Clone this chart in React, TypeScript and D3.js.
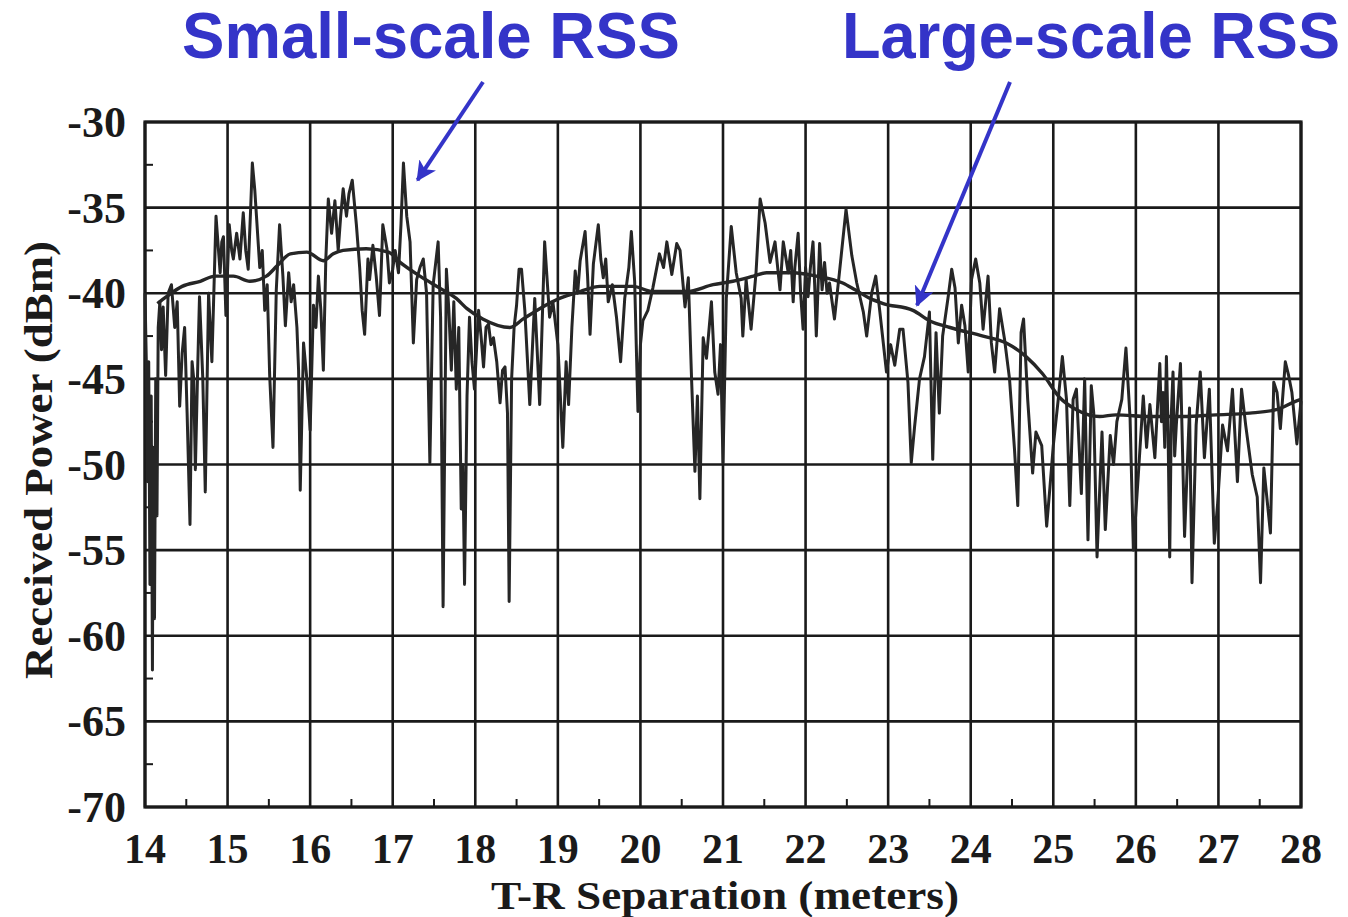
import React from 'react';
import * as d3 from 'd3';

const xTicks = [14, 15, 16, 17, 18, 19, 20, 21, 22, 23, 24, 25, 26, 27, 28];
const yTicks = [-30, -35, -40, -45, -50, -55, -60, -65, -70];
const xMinorTicks = [14.5, 15.5, 16.5, 17.5, 18.5, 19.5, 20.5, 21.5, 22.5, 23.5, 24.5, 25.5, 26.5, 27.5];
const yMinorTicks = [-32.5, -37.5, -42.5, -47.5, -52.5, -57.5, -62.5, -67.5];

const xAxisTitle = 'T-R Separation (meters)';
const yAxisTitle = 'Received Power (dBm)';
const smallLabel = 'Small-scale RSS';
const largeLabel = 'Large-scale RSS';
// arrow tips point at these data locations [distance, dBm]
const smallArrowTip: [number, number] = [17.3, -33.4];
const largeArrowTip: [number, number] = [23.35, -40.7];

// [distance (m), received power (dBm)]
const smallScaleRSS: [number, number][] = [
  [14.00, -40.0], [14.02, -45.0], [14.03, -51.0], [14.045, -44.0], [14.06, -57.0], [14.075, -46.0],
  [14.09, -62.0], [14.10, -49.0], [14.115, -59.0], [14.13, -45.0], [14.145, -53.0], [14.16, -42.0],
  [14.18, -40.5], [14.20, -43.3], [14.22, -40.8], [14.25, -44.8], [14.28, -40.0], [14.32, -39.5],
  [14.36, -42.0], [14.39, -40.5], [14.42, -46.6], [14.45, -43.5], [14.48, -42.0], [14.51, -47.0],
  [14.545, -53.5], [14.57, -44.0], [14.59, -45.0], [14.61, -50.3], [14.64, -44.0], [14.66, -40.2],
  [14.70, -45.0], [14.73, -51.6], [14.77, -40.0], [14.81, -44.0], [14.86, -35.5], [14.91, -38.8],
  [14.93, -37.0], [14.95, -36.7], [14.98, -41.3], [15.02, -36.0], [15.05, -37.5], [15.07, -38.0],
  [15.11, -36.5], [15.15, -38.0], [15.19, -35.3], [15.22, -37.5], [15.25, -38.6], [15.28, -35.0],
  [15.30, -32.4], [15.33, -34.0], [15.35, -35.5], [15.39, -38.5], [15.42, -37.5], [15.45, -41.0],
  [15.48, -39.5], [15.51, -44.8], [15.55, -49.0], [15.59, -39.8], [15.63, -36.0], [15.67, -39.0],
  [15.70, -41.9], [15.74, -38.8], [15.77, -40.5], [15.80, -39.5], [15.84, -42.0], [15.86, -44.5],
  [15.88, -51.5], [15.92, -42.9], [15.96, -45.0], [16.00, -48.0], [16.04, -40.7], [16.07, -42.0],
  [16.10, -39.0], [16.13, -41.0], [16.16, -44.5], [16.19, -38.0], [16.22, -34.5], [16.26, -36.5],
  [16.30, -34.6], [16.34, -37.5], [16.37, -35.5], [16.40, -33.9], [16.44, -35.5], [16.47, -34.2],
  [16.51, -33.4], [16.56, -36.0], [16.60, -38.5], [16.63, -41.0], [16.66, -42.4], [16.70, -38.0],
  [16.72, -39.2], [16.76, -37.2], [16.80, -39.0], [16.84, -41.3], [16.88, -36.0], [16.93, -37.4],
  [16.96, -39.4], [17.00, -38.6], [17.03, -37.5], [17.07, -38.8], [17.10, -36.0], [17.13, -32.4],
  [17.17, -35.5], [17.21, -37.0], [17.25, -42.9], [17.29, -39.2], [17.33, -38.5], [17.37, -38.0],
  [17.41, -40.0], [17.45, -49.9], [17.49, -39.5], [17.55, -37.0], [17.58, -41.4], [17.61, -58.3],
  [17.65, -38.6], [17.68, -41.0], [17.71, -44.5], [17.74, -40.5], [17.77, -45.6], [17.80, -42.0],
  [17.83, -52.6], [17.85, -50.0], [17.87, -57.0], [17.90, -46.0], [17.93, -41.4], [17.96, -44.0],
  [17.99, -45.6], [18.04, -41.0], [18.07, -42.5], [18.10, -44.3], [18.13, -42.0], [18.16, -41.8],
  [18.19, -43.0], [18.22, -42.6], [18.26, -44.0], [18.30, -46.4], [18.33, -44.5], [18.36, -44.3],
  [18.39, -47.0], [18.41, -58.0], [18.44, -45.0], [18.47, -42.0], [18.50, -40.7], [18.53, -38.6],
  [18.56, -38.6], [18.60, -41.0], [18.66, -46.5], [18.72, -40.3], [18.78, -46.5], [18.84, -37.0],
  [18.90, -41.4], [18.94, -40.5], [19.00, -43.0], [19.06, -49.0], [19.10, -44.0], [19.13, -46.5],
  [19.17, -42.0], [19.21, -38.7], [19.24, -40.0], [19.27, -38.1], [19.33, -36.4], [19.36, -39.0],
  [19.39, -42.4], [19.43, -38.3], [19.49, -36.0], [19.52, -38.0], [19.55, -39.1], [19.58, -38.0],
  [19.61, -40.5], [19.66, -39.5], [19.71, -41.4], [19.76, -44.0], [19.81, -40.3], [19.86, -38.5],
  [19.89, -36.4], [19.93, -39.3], [19.97, -46.9], [20.00, -43.0], [20.03, -41.6], [20.09, -41.0],
  [20.15, -39.7], [20.23, -37.7], [20.28, -38.5], [20.32, -37.0], [20.38, -38.9], [20.44, -37.1],
  [20.48, -37.5], [20.54, -40.8], [20.58, -39.1], [20.62, -45.1], [20.66, -50.4], [20.69, -46.0],
  [20.72, -52.0], [20.76, -42.6], [20.80, -43.8], [20.86, -40.5], [20.90, -44.6], [20.94, -45.9],
  [20.97, -43.0], [21.00, -49.9], [21.04, -40.3], [21.10, -36.1], [21.16, -38.8], [21.22, -40.3],
  [21.24, -42.5], [21.28, -39.2], [21.34, -42.1], [21.40, -38.8], [21.45, -34.5], [21.51, -35.9],
  [21.57, -38.2], [21.63, -37.0], [21.69, -39.8], [21.73, -37.0], [21.79, -38.8], [21.82, -37.5],
  [21.85, -40.5], [21.87, -38.5], [21.91, -36.5], [21.94, -40.0], [21.97, -42.1], [22.00, -38.5],
  [22.03, -40.2], [22.06, -38.4], [22.09, -37.0], [22.11, -39.5], [22.13, -42.5], [22.17, -37.1],
  [22.20, -39.8], [22.23, -38.2], [22.26, -40.0], [22.29, -39.4], [22.35, -41.5], [22.41, -38.8],
  [22.49, -35.1], [22.56, -37.8], [22.62, -39.4], [22.70, -41.1], [22.74, -42.5], [22.80, -40.0],
  [22.85, -39.0], [22.90, -41.1], [22.98, -44.6], [23.03, -43.0], [23.08, -44.2], [23.14, -42.1],
  [23.18, -42.1], [23.24, -45.2], [23.28, -49.9], [23.32, -47.8], [23.38, -45.0], [23.44, -43.7],
  [23.50, -41.1], [23.54, -49.7], [23.58, -42.3], [23.62, -47.0], [23.66, -42.5], [23.73, -40.1],
  [23.77, -38.6], [23.81, -39.7], [23.85, -42.9], [23.89, -40.7], [23.93, -41.9], [23.97, -44.6],
  [24.01, -39.2], [24.06, -38.0], [24.11, -39.4], [24.15, -42.1], [24.21, -39.0], [24.25, -42.9],
  [24.29, -44.6], [24.35, -40.9], [24.41, -42.7], [24.47, -45.0], [24.53, -49.1], [24.57, -52.4],
  [24.61, -42.3], [24.64, -41.5], [24.69, -46.2], [24.75, -50.5], [24.79, -48.1], [24.86, -48.9],
  [24.92, -53.6], [24.96, -51.3], [25.00, -48.9], [25.06, -46.2], [25.11, -43.7], [25.16, -46.2],
  [25.20, -52.4], [25.24, -46.2], [25.28, -45.6], [25.34, -51.7], [25.38, -45.0], [25.42, -54.4],
  [25.46, -45.4], [25.49, -47.0], [25.53, -55.4], [25.59, -48.1], [25.63, -53.8], [25.69, -48.3],
  [25.73, -50.0], [25.77, -47.5], [25.83, -46.2], [25.88, -43.2], [25.93, -47.3], [25.97, -55.0],
  [26.03, -50.6], [26.09, -46.0], [26.13, -49.0], [26.17, -46.5], [26.23, -49.6], [26.29, -44.1],
  [26.31, -47.5], [26.33, -45.8], [26.35, -49.0], [26.37, -43.7], [26.39, -48.0], [26.41, -55.4],
  [26.43, -47.0], [26.45, -44.6], [26.47, -49.5], [26.49, -47.7], [26.54, -44.1], [26.59, -54.2],
  [26.65, -46.7], [26.68, -56.9], [26.73, -47.7], [26.78, -44.6], [26.83, -49.6], [26.89, -45.6],
  [26.95, -54.6], [26.99, -52.3], [27.05, -47.7], [27.11, -49.2], [27.17, -45.6], [27.23, -51.0],
  [27.28, -45.6], [27.33, -47.7], [27.41, -50.6], [27.47, -51.9], [27.51, -56.9], [27.55, -50.2],
  [27.63, -54.0], [27.67, -45.2], [27.71, -45.8], [27.75, -47.9], [27.81, -44.0], [27.85, -44.8],
  [27.89, -45.8], [27.95, -48.8], [28.00, -46.3],
];

const largeScaleRSS: [number, number][] = [
  [14.15, -40.6], [14.26, -40.2], [14.45, -39.6], [14.67, -39.3], [14.85, -39.0], [15.07, -39.0],
  [15.27, -39.3], [15.47, -39.0], [15.60, -38.4], [15.76, -37.7], [15.96, -37.6], [16.16, -38.1],
  [16.28, -37.7], [16.40, -37.5], [16.68, -37.4], [16.95, -37.6], [17.09, -38.2], [17.33, -39.0],
  [17.57, -39.7], [17.77, -40.3], [17.90, -40.9], [18.09, -41.5], [18.42, -42.0], [18.58, -41.5],
  [18.78, -40.9], [19.02, -40.3], [19.27, -39.9], [19.51, -39.6], [19.91, -39.6], [20.15, -39.9],
  [20.56, -39.9], [20.88, -39.5], [21.12, -39.3], [21.37, -39.0], [21.53, -38.8], [21.85, -38.8],
  [22.13, -39.0], [22.45, -39.4], [22.60, -39.8], [22.78, -40.3], [22.94, -40.6], [23.30, -41.0],
  [23.50, -41.6], [23.75, -42.0], [24.15, -42.5], [24.43, -42.9], [24.67, -43.7], [24.87, -44.7],
  [25.08, -46.1], [25.28, -46.8], [25.56, -47.2], [25.76, -47.1], [26.17, -47.2], [26.57, -47.2],
  [26.97, -47.1], [27.38, -47.0], [27.70, -46.8], [27.94, -46.3], [28.00, -46.2],
];

export default function App() {
  const W = 1348;
  const H = 917;
  const x = d3.scaleLinear().domain([14, 28]).range([145, 1301]);
  const y = d3.scaleLinear().domain([-70, -30]).range([807, 122]);
  const line = d3.line<[number, number]>().x((d) => x(d[0])).y((d) => y(d[1])).curve(d3.curveLinear);
  const smooth = d3.line<[number, number]>().x((d) => x(d[0])).y((d) => y(d[1])).curve(d3.curveMonotoneX);

  const ink = '#1a1a1a';
  const trace = '#262626';
  const blue = '#3434C8';
  const serif = '"Liberation Serif", "DejaVu Serif", serif';
  const sans = '"Liberation Sans", Arial, sans-serif';

  return (
    <svg width={W} height={H} style={{ position: 'absolute', left: 0, top: 0, background: '#fff' }}>
      <defs>
        <marker id="arrow" viewBox="0 0 12 12" refX="11" refY="6" markerWidth="5" markerHeight="5" orient="auto" markerUnits="strokeWidth">
          <path d="M0,0 L12,6 L0,12 L3,6 z" fill={blue} />
        </marker>
      </defs>
      <rect x={0} y={0} width={W} height={H} fill="#fff" />

      {/* grid */}
      {xTicks.map((t) => (
        <line key={'gx' + t} x1={x(t)} x2={x(t)} y1={y(-30)} y2={y(-70)} stroke={ink} strokeWidth={2.6} />
      ))}
      {yTicks.map((t) => (
        <line key={'gy' + t} x1={x(14)} x2={x(28)} y1={y(t)} y2={y(t)} stroke={ink} strokeWidth={2.6} />
      ))}
      {xMinorTicks.map((t) => (
        <line key={'mx' + t} x1={x(t)} x2={x(t)} y1={y(-70)} y2={y(-70) - 8} stroke={ink} strokeWidth={2} />
      ))}
      {yMinorTicks.map((t) => (
        <line key={'my' + t} x1={x(14)} x2={x(14) + 8} y1={y(t)} y2={y(t)} stroke={ink} strokeWidth={2} />
      ))}
      <rect x={x(14)} y={y(-30)} width={x(28) - x(14)} height={y(-70) - y(-30)} fill="none" stroke={ink} strokeWidth={3.2} />

      {/* data */}
      <path d={line(smallScaleRSS) || ''} fill="none" stroke={trace} strokeWidth={3} strokeLinejoin="round" />
      <path d={smooth(largeScaleRSS) || ''} fill="none" stroke={trace} strokeWidth={3.4} strokeLinejoin="round" />

      {/* y tick labels */}
      {yTicks.map((t) => (
        <text key={'ly' + t} x={126} y={y(t) + 15} textAnchor="end" fontFamily={serif} fontWeight="bold" fontSize={44} fill={ink}>
          {t}
        </text>
      ))}
      {/* x tick labels */}
      {xTicks.map((t) => (
        <text key={'lx' + t} x={x(t)} y={863} textAnchor="middle" fontFamily={serif} fontWeight="bold" fontSize={42} fill={ink}>
          {t}
        </text>
      ))}
      <text x={725} y={909} textAnchor="middle" fontFamily={serif} fontWeight="bold" fontSize={40} fill={ink}
        textLength={468} lengthAdjust="spacingAndGlyphs">
        {xAxisTitle}
      </text>
      <text transform="translate(52,460) rotate(-90)" textAnchor="middle" fontFamily={serif} fontWeight="bold" fontSize={40} fill={ink}
        textLength={438} lengthAdjust="spacingAndGlyphs">
        {yAxisTitle}
      </text>

      {/* annotations */}
      <text x={182} y={58} fontFamily={sans} fontWeight="bold" fontSize={64} fill={blue} textLength={498} lengthAdjust="spacingAndGlyphs">
        {smallLabel}
      </text>
      <text x={842} y={58} fontFamily={sans} fontWeight="bold" fontSize={64} fill={blue} textLength={498} lengthAdjust="spacingAndGlyphs">
        {largeLabel}
      </text>
      <line x1={483} y1={82} x2={x(smallArrowTip[0])} y2={y(smallArrowTip[1])} stroke={blue} strokeWidth={4} markerEnd="url(#arrow)" />
      <line x1={1010} y1={82} x2={x(largeArrowTip[0])} y2={y(largeArrowTip[1])} stroke={blue} strokeWidth={4} markerEnd="url(#arrow)" />
    </svg>
  );
}
